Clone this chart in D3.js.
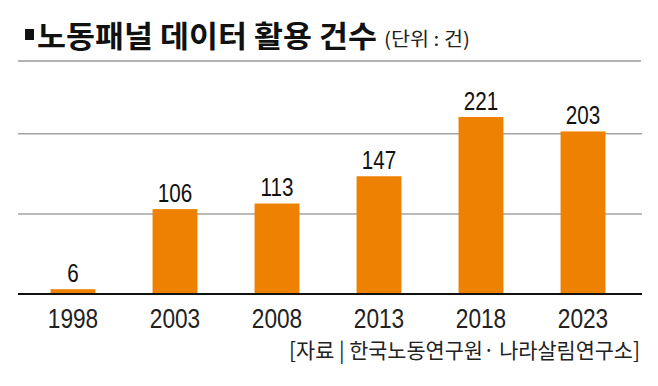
<!DOCTYPE html>
<html>
<head>
<meta charset="utf-8">
<script src="https://cdn.jsdelivr.net/npm/d3@7"></script>
<style>
  body { margin: 0; background: #fff; }
  svg { display: block; }
</style>
</head>
<body>
<div id="chart"></div>
<script>
// 데이터
const years = ["1998", "2003", "2008", "2013", "2018", "2023"];
const counts = [6, 106, 113, 147, 221, 203];
const gridValues = [100, 200];

const width = 658, height = 386;
const svg = d3.select("#chart").append("svg")
    .attr("width", width)
    .attr("height", height);

const sans = "'Liberation Sans', Arial, sans-serif";
const kr = "'Noto Sans CJK KR', 'Noto Sans', sans-serif";

// 제목
svg.append("rect")
    .attr("x", 25).attr("y", 29)
    .attr("width", 9).attr("height", 11)
    .attr("fill", "#111");

svg.append("text")
    .attr("x", 37).attr("y", 47)
    .attr("textLength", 340)
    .attr("lengthAdjust", "spacingAndGlyphs")
    .style("font-family", kr)
    .style("font-weight", 700)
    .style("font-size", "30px")
    .attr("fill", "#111")
    .text("노동패널 데이터 활용 건수");

svg.append("text")
    .attr("x", 384).attr("y", 46)
    .attr("textLength", 86)
    .attr("lengthAdjust", "spacingAndGlyphs")
    .style("font-family", kr)
    .style("font-size", "19px")
    .attr("fill", "#222")
    .text("(단위 : 건)");

svg.append("line")
    .attr("x1", 18).attr("x2", 641)
    .attr("y1", 61).attr("y2", 61)
    .attr("stroke", "#9a9a9a")
    .attr("stroke-width", 1.5);

// 스케일
const x = d3.scaleBand()
    .domain(years)
    .range([22, 634])
    .paddingInner(0.56)
    .paddingOuter(0.28);

const y = d3.scaleLinear()
    .domain([0, 221])
    .range([294, 117]);

// 격자선
svg.selectAll(".grid")
    .data(gridValues)
    .enter().append("line")
    .attr("class", "grid")
    .attr("x1", 18).attr("x2", 642)
    .attr("y1", d => y(d)).attr("y2", d => y(d))
    .attr("stroke", "#a3a3a3")
    .attr("stroke-width", 1.5);

// 막대
svg.selectAll(".bar")
    .data(counts)
    .enter().append("rect")
    .attr("class", "bar")
    .attr("x", (d, i) => x(years[i]))
    .attr("y", d => y(d))
    .attr("width", x.bandwidth())
    .attr("height", d => y(0) - y(d))
    .attr("fill", "#ee8200");

// 기준선
svg.append("line")
    .attr("x1", 18).attr("x2", 642)
    .attr("y1", y(0)).attr("y2", y(0))
    .attr("stroke", "#111")
    .attr("stroke-width", 2);

// 값 라벨
svg.selectAll(".val")
    .data(counts)
    .enter().append("text")
    .attr("class", "val")
    .attr("transform", (d, i) => `translate(${x(years[i]) + x.bandwidth() / 2},${y(d) - 7}) scale(0.86,1.04)`)
    .attr("text-anchor", "middle")
    .style("font-family", sans)
    .style("font-size", "24px")
    .attr("fill", "#111")
    .text(d => d);

// x축
const xAxis = svg.append("g")
    .attr("transform", `translate(0,${y(0)})`)
    .call(d3.axisBottom(x).tickSize(0).tickPadding(0));
xAxis.select(".domain").remove();
xAxis.selectAll("text")
    .attr("y", 0)
    .attr("dy", 0)
    .attr("transform", d => `translate(0,34) scale(0.84,1.04)`)
    .style("font-family", sans)
    .style("font-size", "27px")
    .attr("fill", "#222");

// 출처
svg.append("text")
    .attr("x", 640).attr("y", 358)
    .attr("text-anchor", "end")
    .attr("textLength", 351)
    .attr("lengthAdjust", "spacingAndGlyphs")
    .style("font-family", kr)
    .style("font-size", "21px")
    .attr("fill", "#222")
    .text("[자료 | 한국노동연구원· 나라살림연구소]");
</script>
</body>
</html>
